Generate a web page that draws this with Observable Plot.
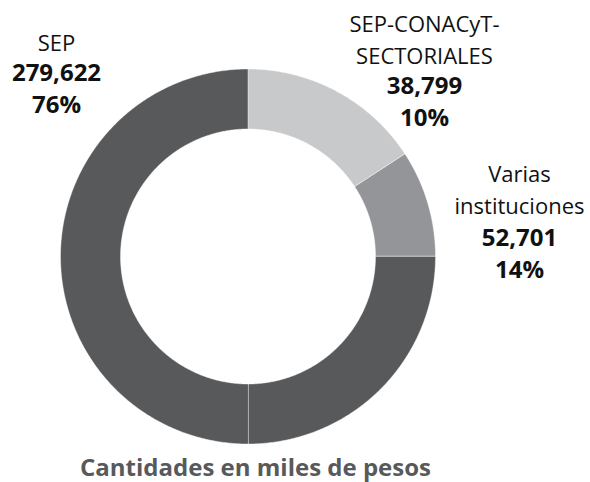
<!DOCTYPE html>
<html>
<head>
<meta charset="utf-8">
<script src="https://cdn.jsdelivr.net/npm/d3@7"></script>
<script src="https://cdn.jsdelivr.net/npm/@observablehq/plot@0.6"></script>
<style>
  html, body { margin: 0; padding: 0; background: #fff; }
  #chart svg { display: block; }
</style>
</head>
<body>
<div id="chart"></div>
<script>
// ---- data ----
const categories = ["SEP", "SEP-CONACyT-SECTORIALES", "Varias instituciones"];
const nameLines = [["SEP"], ["SEP-CONACyT-", "SECTORIALES"], ["Varias", "instituciones"]];
const amounts = [279622, 38799, 52701];          // miles de pesos
const percents = [76, 10, 14];
// ring slices as drawn in the picture (clockwise from 12 o'clock), share of the ring in %
const arcCategory = ["SEP-CONACyT-SECTORIALES", "Varias instituciones", "SEP", "SEP"];
const arcShares = [15.8, 9.2, 25, 50];
const caption = "Cantidades en miles de pesos";

// ---- styles / layout ----
const colors = {"SEP": "#58595b", "SEP-CONACyT-SECTORIALES": "#c8c9cb", "Varias instituciones": "#939598"};
const cx = 247.5, cy = 256, R = 187.5, innerRatio = 0.68;
const labelLayout = {
  "SEP": {x: 56, nameY: 50, valueY: 112},
  "SEP-CONACyT-SECTORIALES": {x: 424, nameY: 63, valueY: 125},
  "Varias instituciones": {x: 519, nameY: 213, valueY: 277}
};
const font = "'Open Sans', 'Noto Sans', sans-serif";

// build ring polygons in unit coordinates
const total = d3.sum(arcShares);
let acc = 0;
const polys = arcShares.map((s, i) => {
  const a0 = acc / total * 2 * Math.PI;
  acc += s;
  const a1 = acc / total * 2 * Math.PI;
  const n = Math.max(2, Math.ceil((a1 - a0) / (Math.PI / 360)));
  const pts = [];
  for (let k = 0; k <= n; k++) {
    const a = a0 + (a1 - a0) * k / n;
    pts.push({x: Math.sin(a), y: Math.cos(a)});
  }
  for (let k = n; k >= 0; k--) {
    const a = a0 + (a1 - a0) * k / n;
    pts.push({x: innerRatio * Math.sin(a), y: innerRatio * Math.cos(a)});
  }
  return {cat: arcCategory[i], pts};
});

const fmt = d3.format(",");
const marks = [];
polys.forEach(p => {
  marks.push(Plot.line(p.pts, {
    x: "x", y: "y", curve: "linear-closed",
    fill: colors[p.cat], stroke: "#ffffff", strokeWidth: 0.6, strokeOpacity: 0.7
  }));
});
categories.forEach((c, i) => {
  const L = labelLayout[c];
  marks.push(Plot.text([nameLines[i].join("\n")], {
    text: d => d, frameAnchor: "top-left", dx: L.x, dy: L.nameY,
    textAnchor: "middle", lineAnchor: "bottom", lineHeight: 1.45,
    fontSize: 22, fill: "#111", fontFamily: font
  }));
  marks.push(Plot.text([fmt(amounts[i]) + "\n" + percents[i] + "%"], {
    text: d => d, frameAnchor: "top-left", dx: L.x, dy: L.valueY,
    textAnchor: "middle", lineAnchor: "bottom", lineHeight: 1.3,
    fontSize: 24, fontWeight: "bold", fill: "#111", fontFamily: font
  }));
});
marks.push(Plot.text([caption], {
  text: d => d, frameAnchor: "top-left", dx: 255, dy: 475,
  textAnchor: "middle", lineAnchor: "bottom",
  fontSize: 24, fontWeight: "bold", fill: "#58595b", fontFamily: font
}));

const chart = Plot.plot({
  width: 590, height: 482,
  margin: 0,
  x: {domain: [-1, 1], range: [cx - R, cx + R], axis: null},
  y: {domain: [-1, 1], range: [cy + R, cy - R], axis: null},
  style: {fontFamily: font, background: "#fff"},
  marks
});
document.getElementById("chart").appendChild(chart);
</script>
</body>
</html>
